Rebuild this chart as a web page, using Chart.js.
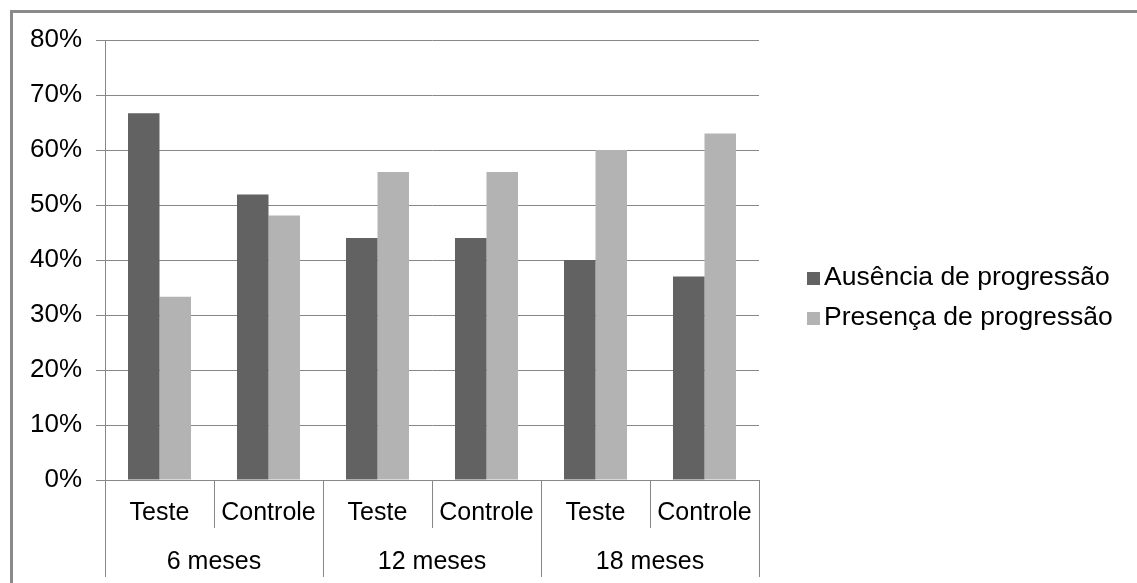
<!DOCTYPE html>
<html>
<head>
<meta charset="utf-8">
<script src="https://cdn.jsdelivr.net/npm/chart.js@4.4.1/dist/chart.umd.min.js"></script>
<style>
  html, body { margin: 0; padding: 0; background: #fff; }
  #wrap { width: 1137px; height: 583px; }
</style>
</head>
<body>
<div id="wrap"><canvas id="chart" width="1137" height="583"></canvas></div>
<script>
// dados
const categorias = ['Teste', 'Controle', 'Teste', 'Controle', 'Teste', 'Controle'];
const grupos = ['6 meses', '12 meses', '18 meses'];
const ausencia = [66.7, 51.9, 44, 44, 40, 37];
const presenca = [33.3, 48.1, 56, 56, 60, 63];
const yTicks = [0, 10, 20, 30, 40, 50, 60, 70, 80];

const corEscura = '#626262';
const corClara = '#b3b3b3';
const corLinha = '#878787';
const fonte = "'Liberation Sans', Arial, sans-serif";

// moldura, rótulos de grupo e legenda
const extrasPlugin = {
    id: 'extras',
    beforeDraw(chart) {
        const ctx = chart.ctx;
        ctx.save();
        ctx.fillStyle = '#fff';
        ctx.fillRect(0, 0, chart.width, chart.height);
        ctx.strokeStyle = '#8a8a8a';
        ctx.lineWidth = 3;
        ctx.beginPath();
        ctx.moveTo(11.5, chart.height);
        ctx.lineTo(11.5, 11.5);
        ctx.lineTo(chart.width, 11.5);
        ctx.stroke();
        ctx.restore();
    },
    afterDraw(chart) {
        const ctx = chart.ctx;
        const x = chart.scales.x;
        const meia = (x.getPixelForValue(1) - x.getPixelForValue(0)) / 2;
        ctx.save();
        // linhas separadoras dos grupos
        ctx.strokeStyle = corLinha;
        ctx.lineWidth = 1;
        for (let g = 0; g <= grupos.length; g++) {
            const px = Math.round(x.getPixelForValue(g * 2) - meia) + 0.5;
            ctx.beginPath();
            ctx.moveTo(px, x.top);
            ctx.lineTo(px, x.bottom);
            ctx.stroke();
        }
        // rótulos dos grupos
        ctx.fillStyle = '#000';
        ctx.font = '25px ' + fonte;
        ctx.textAlign = 'center';
        ctx.textBaseline = 'middle';
        grupos.forEach((g, i) => {
            const cx = (x.getPixelForValue(i * 2) + x.getPixelForValue(i * 2 + 1)) / 2;
            ctx.fillText(g, cx, 562);
        });
        // legenda
        ctx.font = '26.5px ' + fonte;
        ctx.textAlign = 'left';
        chart.data.datasets.forEach((ds, i) => {
            const ly = 278 + i * 40;
            ctx.fillStyle = ds.backgroundColor;
            ctx.fillRect(807, ly - 6, 13, 13);
            ctx.fillStyle = '#000';
            ctx.fillText(ds.label, 824, ly);
        });
        ctx.restore();
    }
};

new Chart(document.getElementById('chart'), {
    type: 'bar',
    data: {
        labels: categorias,
        datasets: [
            {
                label: 'Ausência de progressão',
                data: ausencia,
                backgroundColor: corEscura,
                categoryPercentage: 0.578,
                barPercentage: 1
            },
            {
                label: 'Presença de progressão',
                data: presenca,
                backgroundColor: corClara,
                categoryPercentage: 0.578,
                barPercentage: 1
            }
        ]
    },
    options: {
        responsive: false,
        animation: false,
        layout: {
            padding: { top: 40, left: 10, right: 378, bottom: 6 }
        },
        plugins: {
            legend: { display: false },
            tooltip: { enabled: false }
        },
        scales: {
            x: {
                grid: {
                    offset: true,
                    drawOnChartArea: false,
                    tickLength: 48,
                    color: corLinha
                },
                border: { color: corLinha },
                ticks: {
                    color: '#000',
                    font: { family: fonte, size: 25 },
                    padding: -30,
                    maxRotation: 0,
                    autoSkip: false
                },
                afterFit: function (scale) {
                    scale.height = 97;
                }
            },
            y: {
                min: 0,
                max: 80,
                afterBuildTicks: function (scale) {
                    scale.ticks = yTicks.map(v => ({ value: v }));
                },
                grid: {
                    color: corLinha,
                    tickLength: 9
                },
                border: { color: corLinha },
                ticks: {
                    color: '#000',
                    font: { family: fonte, size: 26 },
                    padding: 14,
                    callback: function (value) {
                        return value + '%';
                    }
                },
                afterFit: function (scale) {
                    scale.width = 95;
                }
            }
        }
    },
    plugins: [extrasPlugin]
});
</script>
</body>
</html>
